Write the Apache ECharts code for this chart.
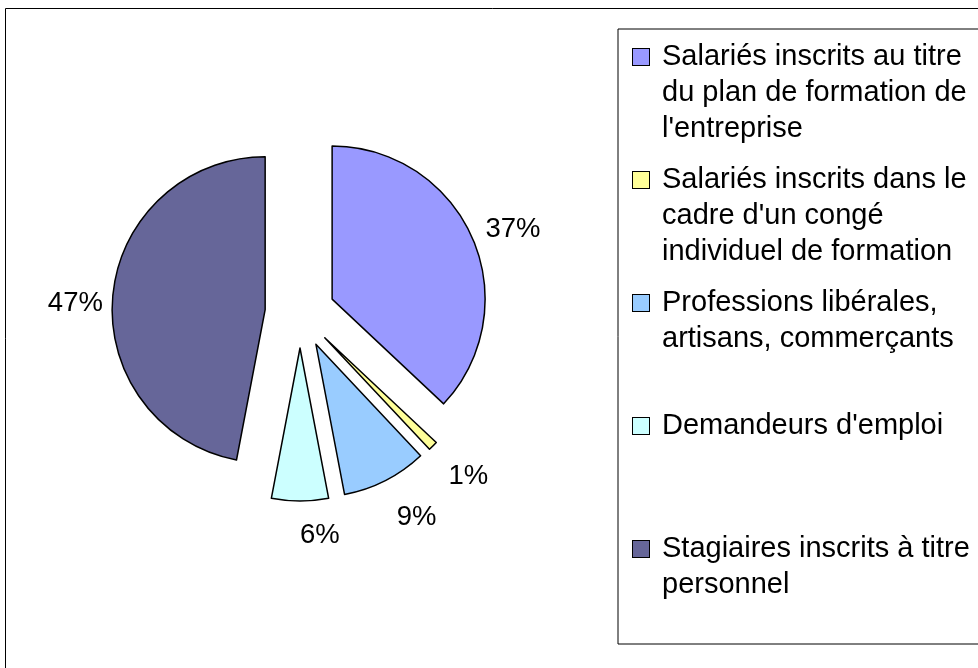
<!DOCTYPE html>
<html>
<head>
<meta charset="utf-8">
<script src="https://cdn.jsdelivr.net/npm/echarts@6/dist/echarts.min.js"></script>
<style>
html, body { margin: 0; padding: 0; background: #fff; }
#chart1 { width: 978px; height: 668px; }
</style>
</head>
<body>
<div id="chart1"></div>
<script>
// data
var categories = [
    'Salariés inscrits au titre du plan de formation de l\'entreprise',
    'Salariés inscrits dans le cadre d\'un congé individuel de formation',
    'Professions libérales, artisans, commerçants',
    'Demandeurs d\'emploi',
    'Stagiaires inscrits à titre personnel'
];
var legendLines = [
    ['Salariés inscrits au titre', 'du plan de formation de', 'l\'entreprise'],
    ['Salariés inscrits dans le', 'cadre d\'un congé', 'individuel de formation'],
    ['Professions libérales,', 'artisans, commerçants'],
    ['Demandeurs d\'emploi'],
    ['Stagiaires inscrits à titre', 'personnel']
];
var values = [37, 1, 9, 6, 47];

// styles
var colors = ['#9999FF', '#FFFF99', '#99CCFF', '#CCFFFF', '#666699'];
var labelGap = [14, 22, 25, 34, 10];
var labelShift = [-3, 15, 15, 0, 9];   // vertical nudge of each % label
var font = 'Liberation Sans, Arial, sans-serif';

var chart = echarts.init(document.getElementById('chart1'));

var rich = {
    g: { width: 13 },
    ind: { width: 29 },
    t: { fontSize: 29, lineHeight: 36, fontFamily: font, color: '#000' }
};
colors.forEach(function (c, i) {
    rich['b' + i] = {
        width: 16, height: 16,
        backgroundColor: c,
        borderColor: '#000',
        borderWidth: 1
    };
});

var labelRich = { v: { fontFamily: font, fontSize: 27.5, lineHeight: 30, color: '#000' } };
labelShift.forEach(function (s, i) {
    labelRich['s' + i] = { fontSize: 1, lineHeight: Math.abs(s) * 2 };
});

var pieData = values.map(function (v, i) {
    return {
        value: v,
        name: categories[i],
        selected: true,
        itemStyle: { color: colors[i] },
        labelLine: { show: false, length: labelGap[i], length2: 0 }
    };
});

option = {
    backgroundColor: '#fff',
    animation: false,
    graphic: [{
        type: 'rect',
        x: 5.5, y: 8.5,
        shape: { width: 1000, height: 700 },
        style: { fill: 'none', stroke: '#000', lineWidth: 1 },
        silent: true
    }],
    legend: {
        orient: 'vertical',
        left: 618,
        top: 29,
        icon: 'none',
        itemWidth: 0,
        itemHeight: 0,
        itemGap: 15,
        padding: [10, 40, 5, 10],
        borderColor: '#000',
        borderWidth: 1,
        selectedMode: false,
        data: categories,
        formatter: function (name) {
            var i = categories.indexOf(name);
            var lines = legendLines[i];
            var out = [];
            for (var k = 0; k < 3; k++) {
                var head = k === 0 ? '{b' + i + '| }{g| }' : '{ind| }';
                out.push(head + '{t|' + (lines[k] || ' ') + '}');
            }
            return out.join('\n');
        },
        textStyle: {
            fontFamily: font,
            fontSize: 29,
            lineHeight: 36,
            rich: rich
        }
    },
    series: [{
        name: 'Stagiaires',
        type: 'pie',
        center: [300, 313],
        radius: 153,
        startAngle: 90,
        clockwise: true,
        selectedMode: 'multiple',
        selectedOffset: 35,
        avoidLabelOverlap: false,
        itemStyle: { borderColor: '#000', borderWidth: 1.5 },
        select: { itemStyle: { borderColor: '#000', borderWidth: 1.5 } },
        emphasis: { disabled: true },
        label: {
            show: true,
            position: 'outside',
            formatter: function (p) {
                var s = labelShift[p.dataIndex];
                var txt = '{v|' + p.value + '%}';
                if (s > 0) return '{s' + p.dataIndex + '| }\n' + txt;
                if (s < 0) return txt + '\n{s' + p.dataIndex + '| }';
                return txt;
            },
            fontFamily: font,
            fontSize: 27.5,
            color: '#000',
            distanceToLabelLine: 0,
            rich: labelRich
        },
        labelLine: { show: false, length2: 0 },
        data: pieData
    }]
};
chart.setOption(option);
</script>
</body>
</html>
